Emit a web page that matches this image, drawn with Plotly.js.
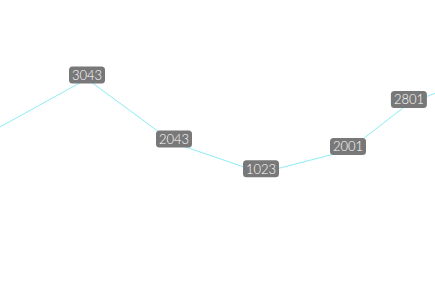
<!DOCTYPE html>
<html>
<head>
<meta charset="utf-8">
<script src="https://cdn.plot.ly/plotly-3.0.1.min.js"></script>
<style>html,body{margin:0;padding:0;background:#fff;}#chart{width:435px;height:298px;}</style>
</head>
<body>
<div id="chart"></div>
<script>
// Data
var xPositions = [0, 1, 2, 3, 4, 4.7, 5.5];
var lineValues = [57.4, 73.5, 52.0, 42.0, 49.5, 65.3, 74.4];
var pointLabels = ["", "3043", "2043", "1023", "2001", "2801", ""];

var trace = {
  x: xPositions,
  y: lineValues,
  type: 'scatter',
  mode: 'lines',
  line: {color: 'rgb(140,236,246)', width: 1},
  hoverinfo: 'skip',
  cliponaxis: true
};

// rounded label box, in pixels around the anchor point
function roundedBox(w, h, r, cy) {
  var t = cy + h, b = cy - h;
  return 'M ' + (-w + r) + ',' + b +
    ' L ' + (w - r) + ',' + b +
    ' Q ' + w + ',' + b + ' ' + w + ',' + (b + r) +
    ' L ' + w + ',' + (t - r) +
    ' Q ' + w + ',' + t + ' ' + (w - r) + ',' + t +
    ' L ' + (-w + r) + ',' + t +
    ' Q ' + (-w) + ',' + t + ' ' + (-w) + ',' + (t - r) +
    ' L ' + (-w) + ',' + (b + r) +
    ' Q ' + (-w) + ',' + b + ' ' + (-w + r) + ',' + b + ' Z';
}

var shift = 4;
var annotations = [];
var shapes = [];
for (var i = 0; i < xPositions.length; i++) {
  if (!pointLabels[i]) continue;
  shapes.push({
    type: 'path', xref: 'x', yref: 'y',
    xsizemode: 'pixel', ysizemode: 'pixel',
    xanchor: xPositions[i], yanchor: lineValues[i],
    path: roundedBox(18, 8.5, 3.5, shift),
    fillcolor: '#787878', line: {width: 0}, layer: 'above'
  });
  annotations.push({
    x: xPositions[i], y: lineValues[i], xref: 'x', yref: 'y',
    text: pointLabels[i], showarrow: false,
    yshift: shift,
    font: {family: 'Lato', size: 13, weight: 300, color: '#ffffff'},
    borderpad: 0, borderwidth: 0
  });
}

var layout = {
  width: 435, height: 298,
  margin: {l: 0, r: 0, t: 0, b: 0},
  paper_bgcolor: '#ffffff', plot_bgcolor: '#ffffff',
  showlegend: false,
  xaxis: {range: [0, 5], visible: false, fixedrange: true},
  yaxis: {range: [0, 100], visible: false, fixedrange: true},
  shapes: shapes,
  annotations: annotations
};

Plotly.newPlot('chart', [trace], layout, {displayModeBar: false, staticPlot: true});
</script>
</body>
</html>
